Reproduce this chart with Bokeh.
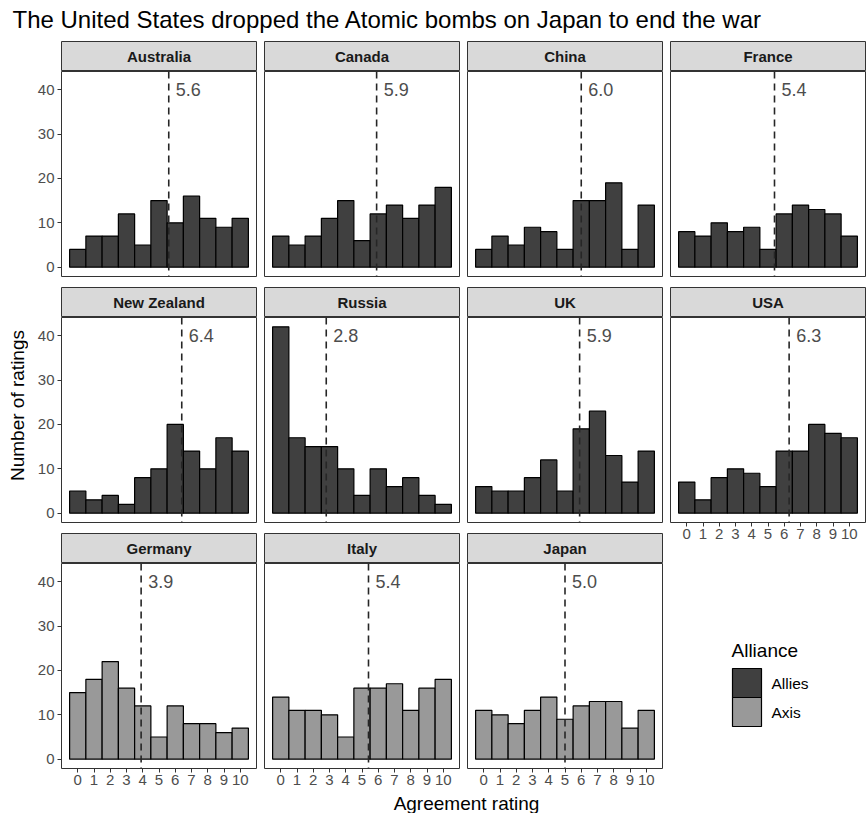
from bokeh.plotting import figure
from bokeh.layouts import row, column
from bokeh.models import (Range1d, FixedTicker, Span, Label, ColumnDataSource)
from bokeh.embed import file_html
from bokeh.resources import INLINE

# ---------------- data ----------------
TITLE = "The United States dropped the Atomic bombs on Japan to end the war"
X_LABEL = "Agreement rating"
Y_LABEL = "Number of ratings"
LEGEND_TITLE = "Alliance"

countries = ["Australia", "Canada", "China", "France", "New Zealand", "Russia",
             "UK", "USA", "Germany", "Italy", "Japan"]
alliance = ["Allies", "Allies", "Allies", "Allies", "Allies", "Allies",
            "Allies", "Allies", "Axis", "Axis", "Axis"]
ratings = [0, 1, 2, 3, 4, 5, 6, 7, 8, 9, 10]

australia = [4, 7, 7, 12, 5, 15, 10, 16, 11, 9, 11]
canada = [7, 5, 7, 11, 15, 6, 12, 14, 11, 14, 18]
china = [4, 7, 5, 9, 8, 4, 15, 15, 19, 4, 14]
france = [8, 7, 10, 8, 9, 4, 12, 14, 13, 12, 7]
new_zealand = [5, 3, 4, 2, 8, 10, 20, 14, 10, 17, 14]
russia = [42, 17, 15, 15, 10, 4, 10, 6, 8, 4, 2]
uk = [6, 5, 5, 8, 12, 5, 19, 23, 13, 7, 14]
usa = [7, 3, 8, 10, 9, 6, 14, 14, 20, 18, 17]
germany = [15, 18, 22, 16, 12, 5, 12, 8, 8, 6, 7]
italy = [14, 11, 11, 10, 5, 16, 16, 17, 11, 16, 18]
japan = [11, 10, 8, 11, 14, 9, 12, 13, 13, 7, 11]
counts = [australia, canada, china, france, new_zealand, russia, uk, usa,
          germany, italy, japan]
means = [5.6, 5.9, 6.0, 5.4, 6.4, 2.8, 5.9, 6.3, 3.9, 5.4, 5.0]

x_ticks = [0, 1, 2, 3, 4, 5, 6, 7, 8, 9, 10]
y_ticks = [0, 10, 20, 30, 40]
fill_colors = {"Allies": "#404040", "Axis": "#999999"}
legend_groups = ["Allies", "Axis"]

# ---------------- style / layout ----------------
FONT = "Liberation Sans"
PANEL_W = 195
PANEL_H = 205
STRIP_H = 30
GAP = 10
AXIS_H = 24
HEADER_H = 40
XLAB_H = 21
YLAB_W = 28
COL1_L = 33
NCOL = 4
BORDER = "#333333"
KEY = 29


def base_fig(**kw):
    return figure(toolbar_location=None, tools="", output_backend="svg",
                  border_fill_color="white", **kw)


def borders(c):
    L = COL1_L if c == 0 else 4
    R = 1 if c == NCOL - 1 else 4
    return L, R


def make_cell(i, r, c):
    show_x = (r == 2) or (r == 1 and c == 3)
    show_y = (c == 0)
    L, R = borders(c)
    B = AXIS_H if show_x else GAP
    W = L + PANEL_W + R

    strip = base_fig(width=W, height=STRIP_H + 1,
                     x_range=Range1d(0, 1), y_range=Range1d(0, 1),
                     min_border_left=L, min_border_right=R,
                     min_border_top=1, min_border_bottom=0,
                     x_axis_location=None, y_axis_location=None,
                     background_fill_color="#d9d9d9",
                     outline_line_color=BORDER)
    strip.grid.visible = False
    strip.add_layout(Label(x=0.5, y=0.5, text=countries[i], text_align="center",
                           text_baseline="middle", text_font=FONT,
                           text_font_size="15px", text_font_style="bold",
                           text_color="#1a1a1a"))

    p = base_fig(width=W, height=PANEL_H + B,
                 x_range=Range1d(-1, 11), y_range=Range1d(-2.1, 44.1),
                 min_border_left=L, min_border_right=R,
                 min_border_top=0, min_border_bottom=B,
                 x_axis_location="below" if show_x else None,
                 y_axis_location="left" if show_y else None,
                 background_fill_color="white",
                 outline_line_color=BORDER, outline_line_width=1)
    p.grid.visible = False

    src = ColumnDataSource(dict(x=ratings, top=counts[i]))
    p.vbar(x="x", top="top", bottom=0, width=1, source=src,
           fill_color=fill_colors[alliance[i]], line_color="black",
           line_width=1.2)

    p.add_layout(Span(location=means[i], dimension="height",
                      line_color="#262626", line_width=1.6, line_dash="7 5"))
    p.add_layout(Label(x=means[i], y=40, text=f"{means[i]:.1f}", x_offset=7,
                       text_align="left", text_baseline="middle",
                       text_font=FONT, text_font_size="18px",
                       text_color="#4d4d4d"))

    for ax in p.axis:
        ax.axis_line_color = None
        ax.major_tick_in = 0
        ax.major_tick_out = 4
        ax.major_tick_line_color = BORDER
        ax.minor_tick_line_color = None
        ax.major_label_text_font = FONT
        ax.major_label_text_font_size = "15px"
        ax.major_label_text_color = "#4d4d4d"
    p.xaxis.ticker = FixedTicker(ticks=x_ticks)
    p.xaxis.major_label_standoff = 2
    p.yaxis.ticker = FixedTicker(ticks=y_ticks)
    p.yaxis.major_label_standoff = 3

    return column([strip, p], spacing=0)


def make_legend_fig(height):
    L, R = borders(NCOL - 1)
    W = L + PANEL_W + R
    # ranges in pixels so the legend block is laid out in screen space
    lf = base_fig(width=W, height=height,
                  x_range=Range1d(0, W), y_range=Range1d(0, height),
                  min_border=0, x_axis_location=None, y_axis_location=None,
                  outline_line_color=None, background_fill_color="white")
    lf.grid.visible = False
    x0 = 66             # left edge of the legend block
    top = height - 122  # top of first key
    lf.add_layout(Label(x=x0 - 1, y=top + 18, text=LEGEND_TITLE,
                        text_align="left", text_baseline="middle",
                        text_font=FONT, text_font_size="19px",
                        text_color="black"))
    n = len(legend_groups)
    src = ColumnDataSource(dict(
        x=[x0 + KEY / 2] * n,
        y=[top - KEY / 2 - k * KEY for k in range(n)],
        color=[fill_colors[g] for g in legend_groups],
    ))
    lf.rect(x="x", y="y", width=KEY, height=KEY, source=src,
            fill_color="color", line_color="black", line_width=1.2)
    for k, g in enumerate(legend_groups):
        lf.add_layout(Label(x=x0 + KEY + 10, y=top - KEY / 2 - k * KEY, text=g,
                            text_align="left", text_baseline="middle",
                            text_font=FONT, text_font_size="15.5px",
                            text_color="black"))
    return lf


CELL_H = STRIP_H + 1 + PANEL_H + GAP
LAST_H = STRIP_H + 1 + PANEL_H + AXIS_H
GRID_H = 2 * CELL_H + LAST_H

cols = []
for c in range(NCOL):
    cells = []
    for r in range(3):
        i = r * NCOL + c
        if i < len(countries):
            cells.append(make_cell(i, r, c))
        else:
            cells.append(make_legend_fig(GRID_H - CELL_H - LAST_H))
    cols.append(column(cells, spacing=0))

TOTAL_W = YLAB_W + sum(sum(borders(c)) + PANEL_W for c in range(NCOL))

# y-axis title
ylab = base_fig(width=YLAB_W, height=GRID_H, x_range=Range1d(0, 1),
                y_range=Range1d(0, 1), min_border=0, x_axis_location=None,
                y_axis_location=None, outline_line_color=None)
ylab.grid.visible = False
ylab.add_layout(Label(x=17, y=GRID_H - (405 - HEADER_H), x_units="screen",
                      y_units="screen", text=Y_LABEL, angle=1.5707963,
                      text_align="center", text_baseline="middle",
                      text_font=FONT, text_font_size="19px",
                      text_color="black"))

# header title
header = base_fig(width=TOTAL_W, height=HEADER_H, x_range=Range1d(0, 1),
                  y_range=Range1d(0, 1), min_border=0, x_axis_location=None,
                  y_axis_location=None, outline_line_color=None)
header.grid.visible = False
header.add_layout(Label(x=12, y=HEADER_H - 19, x_units="screen", y_units="screen",
                        text=TITLE, text_align="left", text_baseline="middle",
                        text_font=FONT, text_font_size="24px",
                        text_color="black"))

# x-axis title
xlab = base_fig(width=TOTAL_W, height=XLAB_H, x_range=Range1d(0, 1),
                y_range=Range1d(0, 1), min_border=0, x_axis_location=None,
                y_axis_location=None, outline_line_color=None)
xlab.grid.visible = False
xlab.add_layout(Label(x=466, y=10, x_units="screen", y_units="screen",
                      text=X_LABEL, text_align="center", text_baseline="middle",
                      text_font=FONT, text_font_size="19px", text_color="black"))

layout = column([header, row([ylab] + cols, spacing=0), xlab], spacing=0)

with open("out.html", "w") as f:
    f.write(file_html(layout, INLINE))
